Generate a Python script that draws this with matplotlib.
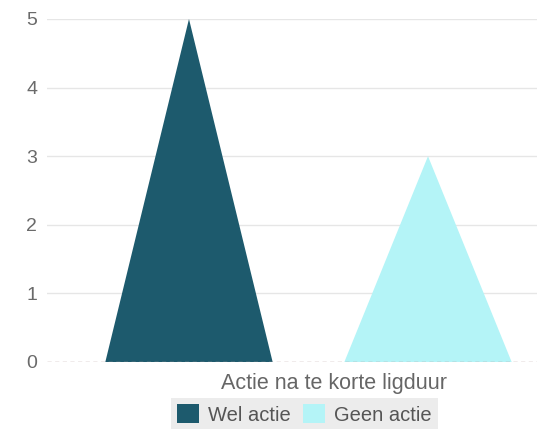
import matplotlib.pyplot as plt
from matplotlib.patches import Polygon

plt.rcParams['font.family'] = ['Liberation Sans', 'DejaVu Sans']

# data
series = ['Wel actie', 'Geen actie']
values = [5, 3]
colors = ['#1d5a6d', '#b4f4f7']
category = 'Actie na te korte ligduur'
yticks = [0, 1, 2, 3, 4, 5]

fig = plt.figure(figsize=(5.37, 4.29), dpi=100)
ax = fig.add_axes([47 / 537, 1 - 362 / 429, 490 / 537, (362 - 19) / 429])

width = 0.7
for i, (name, v, c) in enumerate(zip(series, values, colors)):
    tri = Polygon([(i - width / 2, 0), (i, v), (i + width / 2, 0)],
                  closed=True, facecolor=c, edgecolor='none', label=name,
                  zorder=2)
    ax.add_patch(tri)

ax.set_xlim(-0.594, 1.456)
ax.set_ylim(0, 5)
ax.set_yticks(yticks)
ax.set_xticks([])
for y in yticks[1:]:
    ax.axhline(y, color='#e6e6e6', lw=1, zorder=1)
ax.axhline(0, color='#b39d9d', lw=1, ls=(0, (3, 2.5)), zorder=3)
for s in ax.spines.values():
    s.set_visible(False)
ax.tick_params(axis='y', length=0, pad=7, labelsize=14, labelcolor='#6a6a6a')
for lab in ax.get_yticklabels():
    lab.set_clip_on(False)

fig.text(334 / 537, 1 - 383 / 429, category, ha='center', va='center',
         fontsize=15.5, color='#666666')

# legend items, each in its own grey box
handles = ax.patches
xs = [171 / 537, 297 / 537]
for h, x in zip(handles, xs):
    leg = fig.legend([h], [h.get_label()], loc='lower left',
                     bbox_to_anchor=(x, -0.004), frameon=True, fancybox=False,
                     facecolor='#ececec', edgecolor='none', framealpha=1,
                     fontsize=14.5, handlelength=1.1, handleheight=1.1,
                     handletextpad=0.45, borderpad=0.3, borderaxespad=0,
                     labelcolor='#555555')
    fig.add_artist(leg)

fig.savefig('out.png', dpi=100)
